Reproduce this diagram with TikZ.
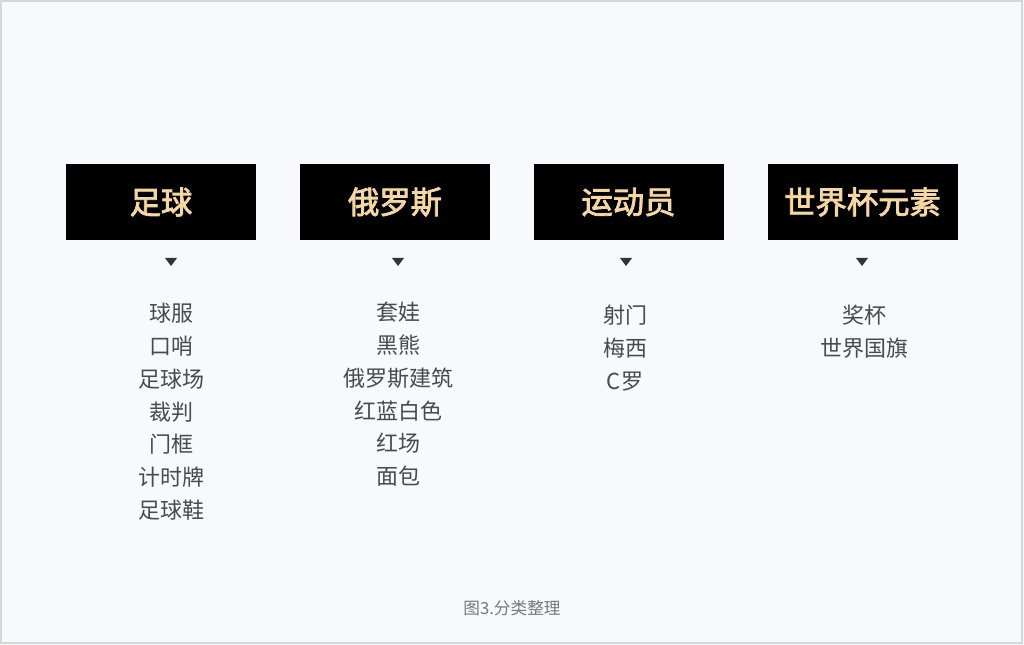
\documentclass[tikz,border=0pt]{standalone}
\usepackage{fontspec}
\usetikzlibrary{calc}
\setmainfont{Noto Sans CJK SC}
\newfontfamily\titlefont{Noto Sans CJK SC}[FakeBold=2.5]
\definecolor{bgc}{HTML}{F7F9FB}
\definecolor{framec}{HTML}{D2D8DC}
\definecolor{gold}{HTML}{F6D7A4}
\definecolor{itemc}{HTML}{4A4A4A}
\definecolor{capc}{HTML}{777777}
\definecolor{tric}{HTML}{333333}
\tikzset{
  catbox/.style={fill=black, minimum width=190*0.75pt, minimum height=76*0.75pt, inner sep=0pt,
    text=gold, font=\titlefont\fontsize{23.5}{26}\selectfont},
  itemlist/.style={text=itemc, align=center, anchor=north, inner sep=0pt,
    font=\fontsize{16.5}{24.6}\selectfont},
  tri/.style={fill=tric, draw=none},
}
\begin{document}
\begin{tikzpicture}[x=0.75pt,y=-0.75pt]
\useasboundingbox (0,0) rectangle (1024,645);
\fill[bgc] (0,0) rectangle (1024,645);
\draw[framec, line width=1.5pt] (1,1) rectangle (1022,643);
\node[catbox] (c1) at (161,202) {足球};
\node[catbox] (c2) at (395,202) {俄罗斯};
\node[catbox] (c3) at (628.5,202) {运动员};
\node[catbox] (c4) at (862.5,202) {世界杯元素};
\foreach \n/\x in {1/171,2/398,3/626,4/862}{
  \coordinate (t\n) at (\x,262);
  \fill[tri] ($(t\n)+(-6,-4)$) -- ($(t\n)+(6,-4)$) -- ($(t\n)+(0,4)$) -- cycle;
}
\node[itemlist] (l1) at (171,303) {球服\\口哨\\足球场\\裁判\\门框\\计时牌\\足球鞋};
\node[itemlist] (l2) at (398,302) {套娃\\黑熊\\俄罗斯建筑\\红蓝白色\\红场\\面包};
\node[itemlist] (l3) at (625,305) {射门\\梅西\\C罗};
\node[itemlist] (l4) at (864,305) {奖杯\\世界国旗};
\node[text=capc, font=\fontsize{12.5}{15}\selectfont] (cap) at (512,608) {图3.分类整理};
\end{tikzpicture}
\end{document}
